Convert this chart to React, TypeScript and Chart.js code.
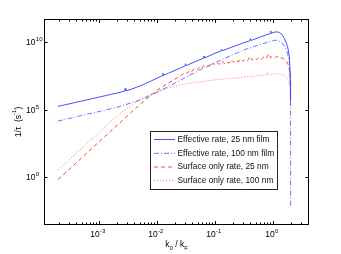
import React, { useEffect, useRef } from "react";
import { Chart, registerables } from "chart.js";
Chart.register(...registerables);

// axis limits (log10 of k0/kF and of 1/tau)
const xLimLog = [-3.95, 0.62];
const yLimLog = [-3.51, 11.73];
const xTickExponents = [-3, -2, -1, 0];
const yTickExponents = [0, 5, 10];

const seriesLabels = [
  "Effective rate, 25 nm film",
  "Effective rate, 100 nm film",
  "Surface only rate, 25 nm",
  "Surface only rate, 100 nm",
];

// log10(k0/kF) and log10(1/tau [s^-1])
const eff25K = [-3.71, -3.4, -3.0, -2.8, -2.64, -2.56, -2.55, -2.54, -2.45, -2.26, -2.1, -2.0, -1.91, -1.9, -1.89, -1.8, -1.6, -1.52, -1.51, -1.5, -1.3, -1.2, -1.19, -1.18, -1.0, -0.9, -0.89, -0.88, -0.74, -0.6, -0.5, -0.4, -0.39, -0.38, -0.25, -0.12, -0.05, -0.04, -0.03, 0.0, 0.05, 0.1, 0.15, 0.2, 0.25, 0.28, 0.3, 0.302];
const eff25R = [5.26, 5.56, 5.95, 6.14, 6.3, 6.4, 6.6, 6.41, 6.52, 6.83, 7.15, 7.35, 7.53, 7.72, 7.55, 7.72, 8.1, 8.25, 8.42, 8.28, 8.65, 8.82, 8.98, 8.84, 9.2, 9.35, 9.5, 9.37, 9.6, 9.82, 9.98, 10.12, 10.28, 10.14, 10.35, 10.55, 10.65, 10.85, 10.67, 10.72, 10.78, 10.75, 10.6, 10.25, 9.7, 9.0, 7.2, 5.7];

const eff100K = [-3.71, -3.3, -3.0, -2.64, -2.3, -2.0, -1.75, -1.5, -1.25, -1.0, -0.74, -0.5, -0.25, -0.1, 0.0, 0.05, 0.1, 0.15, 0.2, 0.25, 0.28, 0.295, 0.3, 0.302, 0.304];
const eff100R = [4.17, 4.58, 4.88, 5.25, 5.72, 6.3, 6.85, 7.42, 7.98, 8.5, 9.0, 9.45, 9.8, 10.0, 10.12, 10.17, 10.12, 9.98, 9.7, 9.2, 8.6, 7.9, 5.5, 2.0, -2.2];

const surf25K = [-3.71, -3.5, -3.2, -3.0, -2.8, -2.64, -2.4, -2.2, -2.0, -1.8, -1.65,
  -1.56, -1.52, -1.48, -1.44, -1.4, -1.36, -1.32, -1.28, -1.24, -1.2, -1.16, -1.12, -1.08, -1.04, -1.0,
  -0.96, -0.92, -0.88, -0.84, -0.8, -0.76, -0.72, -0.68, -0.64, -0.6, -0.56, -0.52, -0.48, -0.44, -0.4,
  -0.36, -0.32, -0.28, -0.24, -0.2, -0.16, -0.12, -0.08, -0.04, 0.0, 0.04, 0.08, 0.12, 0.16, 0.2,
  0.24, 0.27, 0.29, 0.3, 0.302];
const surf25R = [-0.15, 0.65, 1.85, 2.65, 3.42, 4.05, 5.0, 5.75, 6.45, 7.0, 7.38,
  7.62, 7.78, 7.7, 7.92, 7.84, 8.05, 7.95, 8.12, 8.02, 8.3, 8.15, 8.28, 8.22, 8.45, 8.32,
  8.46, 8.38, 8.62, 8.42, 8.55, 8.46, 8.72, 8.52, 8.66, 8.55, 8.78, 8.6, 8.74, 8.64, 8.95,
  8.68, 8.82, 8.72, 8.9, 8.76, 8.92, 8.8, 9.15, 8.86, 8.98, 8.88, 8.96, 8.84, 8.85, 8.72,
  8.55, 8.25, 7.7, 6.6, 5.3];

const surf100K = [-3.71, -3.4, -3.0, -2.64, -2.45, -2.3, -2.15, -2.0, -1.8, -1.6, -1.4, -1.2, -1.0, -0.8, -0.6, -0.4, -0.2, -0.1, -0.09, -0.08, 0.0, 0.1, 0.2, 0.25, 0.28, 0.295, 0.3, 0.302];
const surf100R = [0.54, 1.75, 3.33, 4.74, 5.3, 5.75, 6.08, 6.35, 6.62, 6.85, 7.0, 7.12, 7.22, 7.3, 7.38, 7.47, 7.56, 7.6, 7.78, 7.61, 7.66, 7.68, 7.55, 7.35, 7.1, 6.8, 6.0, 5.2];

const FONT = "'Liberation Sans', Arial, Helvetica, sans-serif";

const toPoints = (k: number[], r: number[]) =>
  k.map((v, i) => ({ x: Math.pow(10, v), y: Math.pow(10, r[i]) }));

function drawPow(ctx: CanvasRenderingContext2D, exp: string, x: number, y: number, mode: "center" | "baseRight") {
  ctx.font = `8.5px ${FONT}`;
  const wb = ctx.measureText("10").width;
  ctx.font = `6px ${FONT}`;
  const we = ctx.measureText(exp).width;
  const xb = mode === "center" ? x - (wb + we) / 2 : x - wb;
  ctx.textAlign = "left";
  ctx.textBaseline = "alphabetic";
  ctx.font = `8.5px ${FONT}`;
  ctx.fillText("10", xb, y);
  ctx.font = `6px ${FONT}`;
  ctx.fillText(exp, xb + wb + 0.3, y - 4.2);
}

const axesPlugin = {
  id: "matlabAxes",
  afterDatasetsDraw(chart: any) {
    const { ctx, chartArea: a, scales } = chart;
    const xs = scales.x;
    const ys = scales.y;
    ctx.save();
    ctx.fillStyle = "#000";
    ctx.strokeStyle = "#000";
    ctx.lineWidth = 1;
    const L = Math.round(a.left) + 0.5;
    const R = Math.round(a.right) - 0.5;
    const T = Math.round(a.top) + 0.5;
    const B = Math.round(a.bottom) - 0.5;
    ctx.strokeRect(L, T, R - L, B - T);

    ctx.beginPath();
    for (let d = -4; d <= 0; d++) {
      for (let m = 1; m <= 9; m++) {
        const v = m * Math.pow(10, d);
        const lv = Math.log10(v);
        if (lv < xLimLog[0] || lv > xLimLog[1]) continue;
        const px = Math.round(xs.getPixelForValue(v)) + 0.5;
        const len = m === 1 ? 3.5 : 2;
        ctx.moveTo(px, B);
        ctx.lineTo(px, B - len);
        ctx.moveTo(px, T);
        ctx.lineTo(px, T + len);
      }
    }
    for (const e of yTickExponents) {
      const py = Math.round(ys.getPixelForValue(Math.pow(10, e))) + 0.5;
      ctx.moveTo(L, py);
      ctx.lineTo(L + 3, py);
      ctx.moveTo(R, py);
      ctx.lineTo(R - 3, py);
    }
    ctx.stroke();

    for (const e of xTickExponents) {
      const px = xs.getPixelForValue(Math.pow(10, e));
      drawPow(ctx, String(e), px - 1.5, 237, "center");
    }
    for (const e of yTickExponents) {
      const py = ys.getPixelForValue(Math.pow(10, e));
      drawPow(ctx, String(e), 35.5, py + 3, "baseRight");
    }

    {
      const parts: [string, boolean][] = [["k", false], ["0", true], [" / k", false], ["F", true]];
      let w = 0;
      for (const [t, sub] of parts) {
        ctx.font = `${sub ? 6 : 8.5}px ${FONT}`;
        w += ctx.measureText(t).width;
      }
      let x = (a.left + a.right) / 2 - w / 2;
      ctx.textAlign = "left";
      ctx.textBaseline = "alphabetic";
      for (const [t, sub] of parts) {
        ctx.font = `${sub ? 6 : 8.5}px ${FONT}`;
        ctx.fillText(t, x, sub ? 249.5 : 247);
        x += ctx.measureText(t).width;
      }
    }

    {
      const parts: [string, boolean][] = [["1/\u03C4  (s", false], ["-1", true], [")", false]];
      ctx.translate(17.5, (a.top + a.bottom) / 2);
      ctx.rotate(-Math.PI / 2);
      let w = 0;
      for (const [t, sup] of parts) {
        ctx.font = `${sup ? 6 : 8.5}px ${FONT}`;
        w += ctx.measureText(t).width;
      }
      let x = -w / 2;
      ctx.textAlign = "left";
      ctx.textBaseline = "alphabetic";
      for (const [t, sup] of parts) {
        ctx.font = `${sup ? 6 : 8.5}px ${FONT}`;
        ctx.fillText(t, x, sup ? -1.5 : 3);
        x += ctx.measureText(t).width;
      }
      ctx.setTransform(1, 0, 0, 1, 0, 0);
    }

    const lx0 = 150.5, ly0 = 131.5, lx1 = 277.5, ly1 = 189.5;
    ctx.fillStyle = "#fff";
    ctx.fillRect(lx0, ly0, lx1 - lx0, ly1 - ly0);
    ctx.strokeStyle = "#222";
    ctx.lineWidth = 1;
    ctx.strokeRect(lx0, ly0, lx1 - lx0, ly1 - ly0);
    const rows = [139.5, 153.3, 167, 180.7];
    chart.data.datasets.forEach((ds: any, i: number) => {
      const y = rows[i];
      ctx.save();
      ctx.strokeStyle = ds.borderColor;
      ctx.lineWidth = ds.borderWidth;
      ctx.setLineDash(ds.borderDash || []);
      ctx.beginPath();
      ctx.moveTo(154, y);
      ctx.lineTo(175, y);
      ctx.stroke();
      ctx.restore();
      ctx.fillStyle = "#111";
      ctx.font = `8.4px ${FONT}`;
      ctx.textAlign = "left";
      ctx.textBaseline = "middle";
      ctx.fillText(ds.label, 177.5, y);
    });
    ctx.restore();
  },
};

export default function App() {
  const ref = useRef<HTMLCanvasElement | null>(null);
  useEffect(() => {
    if (!ref.current) return;
    const chart = new Chart(ref.current, {
      type: "line",
      data: {
        datasets: [
          { label: seriesLabels[0], data: toPoints(eff25K, eff25R), borderColor: "rgb(70,80,255)", borderWidth: 1, borderDash: [], pointRadius: 0 },
          { label: seriesLabels[1], data: toPoints(eff100K, eff100R), borderColor: "rgb(90,100,255)", borderWidth: 0.9, borderDash: [5, 2, 1, 2], pointRadius: 0 },
          { label: seriesLabels[2], data: toPoints(surf25K, surf25R), borderColor: "rgb(255,50,50)", borderWidth: 0.9, borderDash: [4, 3], pointRadius: 0 },
          { label: seriesLabels[3], data: toPoints(surf100K, surf100R), borderColor: "rgb(255,100,100)", borderWidth: 0.9, borderDash: [1, 2], pointRadius: 0 },
        ],
      },
      options: {
        animation: false,
        responsive: false,
        devicePixelRatio: 1,
        layout: { padding: { left: 44, top: 19, right: 32, bottom: 29 } },
        plugins: { legend: { display: false }, tooltip: { enabled: false } },
        elements: { line: { tension: 0 } },
        scales: {
          x: { type: "logarithmic", display: false, min: Math.pow(10, xLimLog[0]), max: Math.pow(10, xLimLog[1]) },
          y: { type: "logarithmic", display: false, min: Math.pow(10, yLimLog[0]), max: Math.pow(10, yLimLog[1]) },
        },
      },
      plugins: [axesPlugin],
    } as any);
    return () => chart.destroy();
  }, []);
  return (
    <div style={{ position: "fixed", left: 0, top: 0, width: 341, height: 254, background: "#fff" }}>
      <canvas ref={ref} width={341} height={254} style={{ display: "block", width: 341, height: 254 }} />
    </div>
  );
}
